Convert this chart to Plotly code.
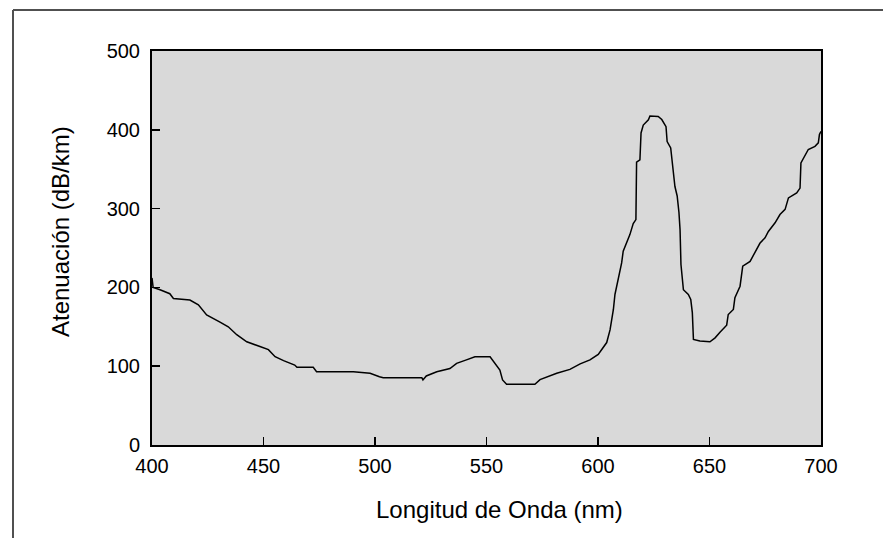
import plotly.graph_objects as go

# Wavelength (nm) and attenuation (dB/km)
wavelength = [400, 400.5, 403.6, 408, 409.6, 417, 420.8, 424.5, 430.5, 434.2,
              438, 442.5, 448.4, 452.2, 455.2, 459, 464, 465, 472.3, 473.8,
              490.3, 497.8, 502, 503.7, 521, 521.5, 523, 527.7, 533.6, 536.6,
              541, 544.8, 551.6, 553.8, 556, 557.2, 559, 571.7, 574, 581.5,
              587.4, 592, 596.4, 600.1, 602.4, 603.9, 605.4, 606.9, 607.6, 609.1,
              610.6, 611.3, 612.8, 614.3, 615.8, 617, 617.3, 618.8, 619.3, 620.3,
              622.6, 623.3, 627, 628.6, 630.5, 631, 632.6, 633.5, 634.5, 635.5,
              636.3, 636.8, 637.2, 638.3, 640.5, 641.6, 642.3, 642.8, 645.7, 650.2,
              652.5, 654.7, 657.7, 658.4, 660.7, 661.4, 663.7, 664.9, 668.2, 670.4,
              672.6, 674.9, 676.4, 679.4, 681.6, 683.9, 685.4, 689.1, 690.6, 691,
              692.1, 694.3, 697.3, 698.8, 699.3, 700]
attenuation = [212, 200, 197, 192, 186, 184, 178, 165, 156, 150,
               140, 131, 125, 121, 112, 107, 101.5, 98.6, 98.6, 93,
               93, 91, 86.7, 85.4, 85.4, 82.5, 87.6, 93, 97, 103.6,
               108, 112, 112, 103.7, 95, 82.5, 77, 77, 83, 91,
               96, 103, 108, 115, 125, 130, 146, 172, 191, 210,
               231, 246, 256, 267, 281, 286, 359, 362, 396, 406,
               412.6, 417.6, 417, 413, 404, 385, 377, 354, 328, 316,
               295, 273, 229, 197, 191, 184.6, 168, 134, 132, 131,
               136, 143, 152, 165.6, 172, 187, 201.5, 227, 233, 244.5,
               256, 263, 271, 282, 292.5, 299, 313.6, 320, 326, 358,
               364, 375, 379, 383.5, 394, 398]

x_title = "Longitud de Onda (nm)"
y_title = "Atenuación (dB/km)"
x_ticks = [400, 450, 500, 550, 600, 650, 700]
y_ticks = [0, 100, 200, 300, 400, 500]

FONT = "Liberation Sans, Arial, sans-serif"

fig = go.Figure()
fig.add_trace(go.Scatter(x=wavelength, y=attenuation, mode="lines",
                         line=dict(color="black", width=1.5), showlegend=False,
                         hoverinfo="skip"))

L, R, T, B = 152, 62, 51, 93
W, H = 883, 538
pw = W - L - R
ph = H - T - B

def px2x(px):
    return (px - L) / pw

def py2y(py):
    return (H - B - py) / ph

fig.update_layout(
    width=W, height=H,
    margin=dict(l=L, r=R, t=T, b=B, pad=0),
    paper_bgcolor="white",
    plot_bgcolor="#d9d9d9",
    font=dict(family=FONT, size=20, color="black"),
    xaxis=dict(range=[400, 700], tickvals=x_ticks, ticks="inside", ticklen=8,
               tickwidth=1.5, tickcolor="black", showline=True, linecolor="black",
               linewidth=2, mirror=True, showgrid=False, zeroline=False,
               ticklabelstandoff=2, fixedrange=True),
    yaxis=dict(range=[0, 500], tickvals=y_ticks, ticks="inside", ticklen=8,
               tickwidth=1.5, tickcolor="black", showline=True, linecolor="black",
               linewidth=2, mirror=True, showgrid=False, zeroline=False,
               ticklabelstandoff=6, fixedrange=True),
    shapes=[
        dict(type="line", xref="paper", yref="paper",
             x0=px2x(13), y0=py2y(540), x1=px2x(13), y1=py2y(10),
             line=dict(color="#505050", width=2)),
        dict(type="line", xref="paper", yref="paper",
             x0=px2x(13), y0=py2y(10), x1=px2x(885), y1=py2y(10),
             line=dict(color="#505050", width=2)),
    ],
    annotations=[
        dict(text=x_title, xref="paper", yref="paper", x=px2x(500), y=py2y(509),
             xanchor="center", yanchor="middle", showarrow=False,
             font=dict(family=FONT, size=24, color="black")),
        dict(text=y_title, xref="paper", yref="paper", x=px2x(60), y=py2y(232),
             xanchor="center", yanchor="middle", showarrow=False, textangle=-90,
             font=dict(family=FONT, size=24, color="black")),
    ],
)

fig.write_html("out.html",
               config={"displayModeBar": False, "staticPlot": True},
               post_script="document.body.style.margin='0';document.body.style.overflow='hidden';")
